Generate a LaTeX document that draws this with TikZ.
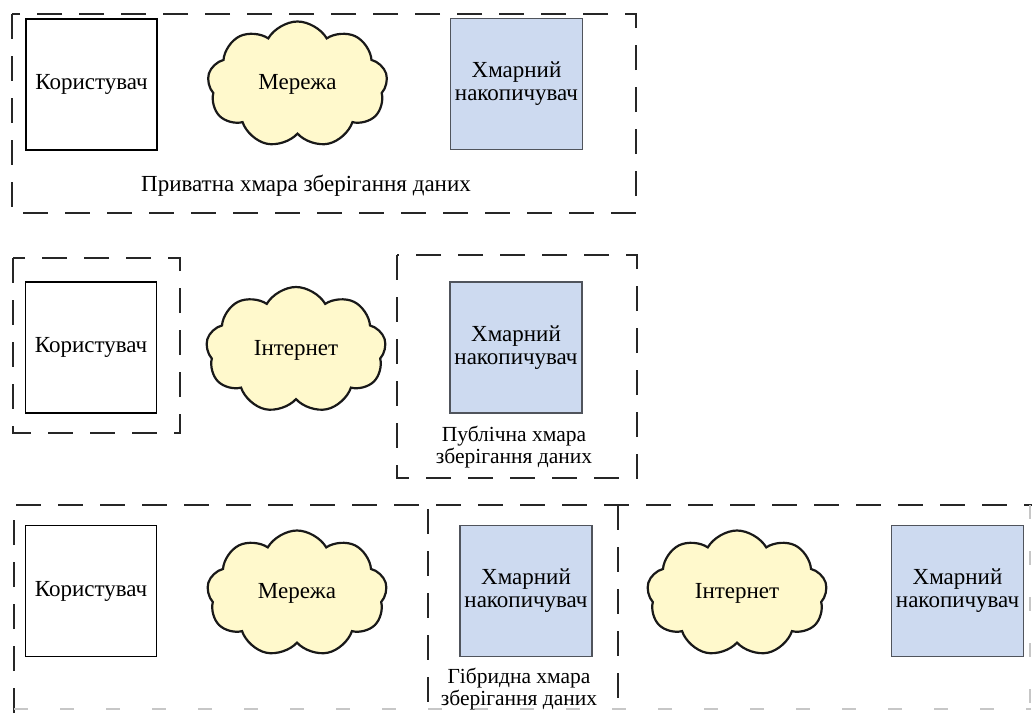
\documentclass[tikz,border=0pt]{standalone}
\usepackage{fontspec}
\setmainfont{Liberation Serif}
\usetikzlibrary{shapes.symbols}

\definecolor{cloudfill}{RGB}{255,249,204}
\definecolor{storefill}{RGB}{205,218,240}
\definecolor{storeedge}{RGB}{80,84,92}

\tikzset{
  userbox/.style={draw=black, line width=1.3pt, fill=white,
    minimum width=131pt, minimum height=131pt, inner sep=0pt},
  storebox/.style={draw=storeedge, line width=1.8pt, fill=storefill,
    minimum width=132pt, minimum height=131pt, inner sep=0pt, align=center},
  netcloud/.style={cloud, draw=black!90, line width=2.2pt, fill=cloudfill,
    cloud puffs=9, cloud puff arc=120, aspect=1.45,
    minimum width=180pt, minimum height=126pt, inner sep=0pt},
  zone/.style={draw=black!85, line width=1.6pt, dash pattern=on 25pt off 17pt},
  faintzone/.style={draw=black!22, line width=1.4pt, dash pattern=on 14pt off 32pt},
  caption/.style={align=center, inner sep=0pt},
  smallcaption/.style={caption, font=\fontsize{21.5}{22.5}\selectfont}
}

\begin{document}
\fontsize{23}{23}\selectfont
\begin{tikzpicture}[x=1pt, y=-1pt]
  \useasboundingbox (0,0) rectangle (1032,713);

  % ---------- private cloud storage ----------
  \draw[zone] (12,14) rectangle (636,213);
  \node[userbox]  (pu) at (91.5,84.5)  {Користувач};
  \node[netcloud] (pn) at (297.5,84.5) {Мережа};
  \node[storebox] (ps) at (516.5,84)   {Хмарний\\накопичувач};
  \node[caption]  (pl) at (306,186)    {Приватна хмара зберігання даних};

  % ---------- public cloud storage ----------
  \draw[zone] (13,258) rectangle (180,433);
  \draw[zone] (397,255) rectangle (637,478);
  \node[userbox]  (bu) at (91,347.5)  {Користувач};
  \node[netcloud] (bn) at (296,350)   {Інтернет};
  \node[storebox] (bs) at (516,347.5) {Хмарний\\накопичувач};
  \node[smallcaption] (bl) at (514,447) {Публічна хмара\\зберігання даних};

  % ---------- hybrid cloud storage ----------
  \draw[zone] (14,713) -- (14,505) -- (1032,505);
  \draw[zone] (428,509) -- (428,713);
  \draw[zone] (618,505) -- (618,713);
  \draw[faintzone] (14,709) -- (1031,709);
  \draw[faintzone] (1030,505) -- (1030,709);
  \node[userbox]  (hu)  at (91,591)    {Користувач};
  \node[netcloud] (hn)  at (297,593.5) {Мережа};
  \node[storebox] (hs)  at (526,591)   {Хмарний\\накопичувач};
  \node[smallcaption] (hl) at (519,689) {Гібридна хмара\\зберігання даних};
  \node[netcloud] (hn2) at (737,593.5) {Інтернет};
  \node[storebox] (hs2) at (957.5,591) {Хмарний\\накопичувач};
\end{tikzpicture}
\end{document}
